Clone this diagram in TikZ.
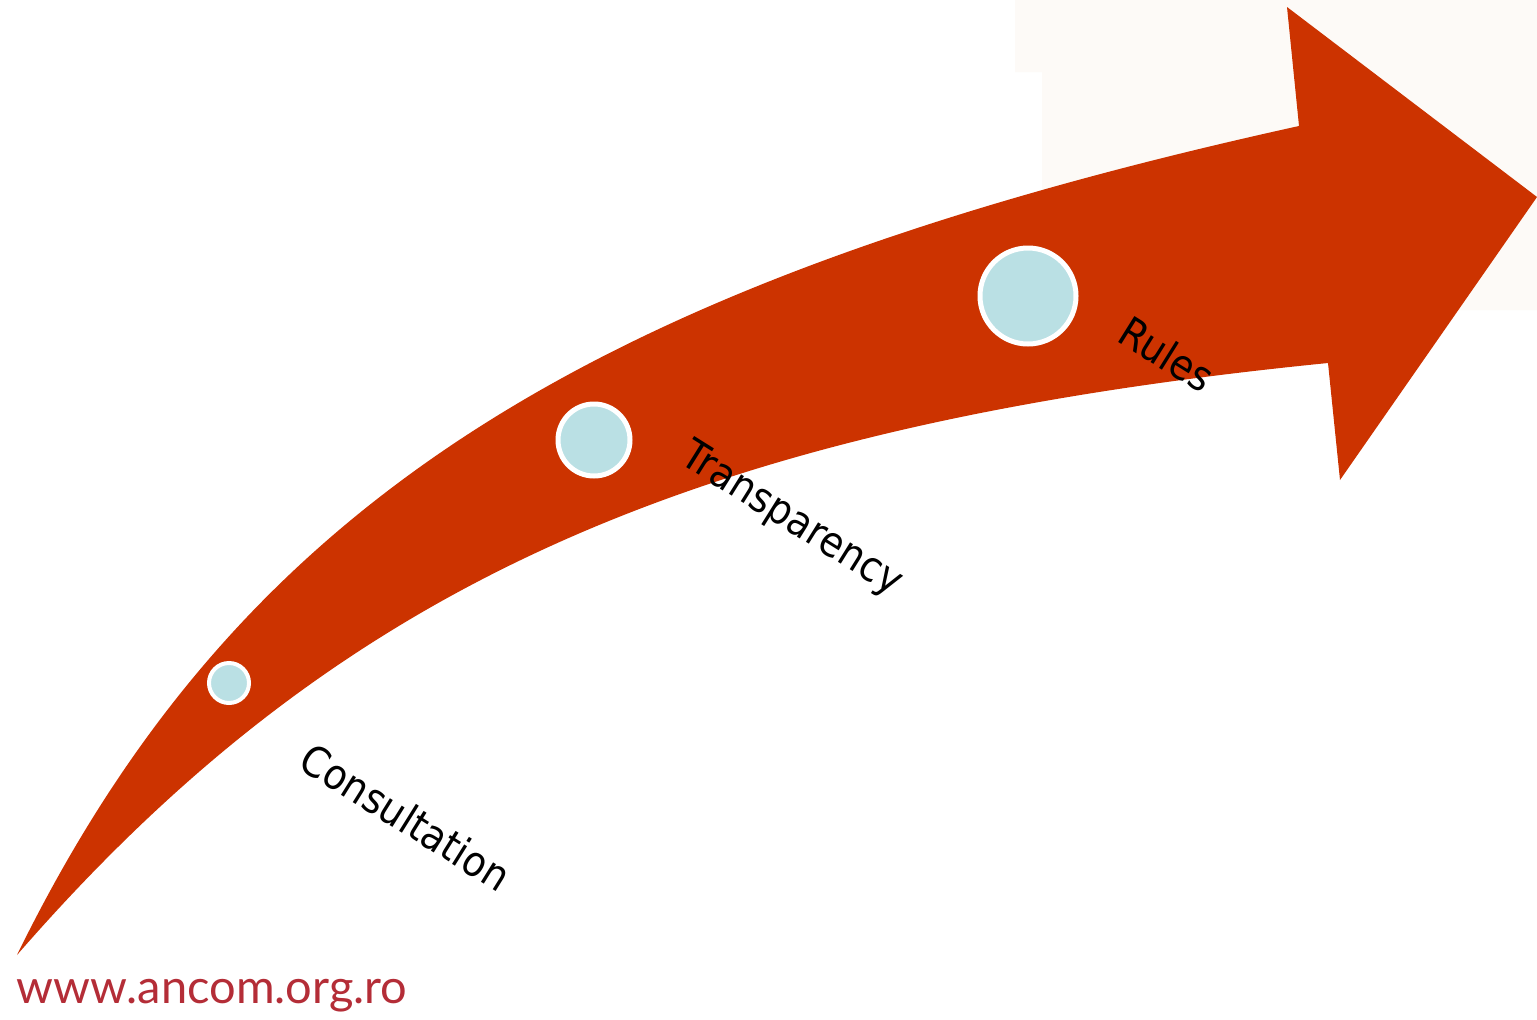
\documentclass[tikz,border=0pt]{standalone}
\usepackage{fontspec}
\setmainfont{DejaVu Sans}
\newfontfamily\urlfont{Lato}
\usetikzlibrary{positioning}
\definecolor{arrowred}{RGB}{204,51,0}
\definecolor{dotblue}{RGB}{186,224,228}
\definecolor{urlred}{RGB}{180,45,55}
\definecolor{paper}{RGB}{253,250,247}

\begin{document}
\begin{tikzpicture}[x=1pt,y=-1pt,on grid]
  \tikzstyle{dot}=[circle,draw=white,fill=dotblue,inner sep=0pt]
  \tikzstyle{steplabel}=[rotate=-32,xscale=0.9,inner sep=0pt,
                         font=\fontsize{42}{50}\selectfont]

  \useasboundingbox (0,0) rectangle (1537,1020);
  \fill[white] (0,0) rectangle (1537,1020);
  \fill[paper] (1015,0) -- (1537,0) -- (1537,310) -- (1042,310)
    -- (1042,72) -- (1015,72) -- cycle;

  % the big arrow
  \fill[arrowred] (17,955) .. controls (236,508) and (582,284) .. (1299,126)
    -- (1287,7) -- (1537,197) -- (1340,480) -- (1328,363)
    .. controls (691,426.5) and (337.5,586.4) .. (17,955) -- cycle;

  \node[dot,line width=4pt,minimum size=40pt] (dot1) at (229,683) {};
  \node[dot,line width=5pt,minimum size=72pt] (dot2) at (594,440) {};
  \node[dot,line width=5pt,minimum size=96pt] (dot3) at (1028,296) {};

  \node[steplabel] (lab1) [below right=134pt and 177pt of dot1] {Consultation};
  \node[steplabel] (lab2) [below right=80pt and 197pt of dot2] {Transparency};
  \node[steplabel] (lab3) [below right=58pt and 139pt of dot3] {Rules};

  \node[anchor=base,text=urlred,font=\urlfont\fontsize{47}{56}\selectfont]
    (url) at (212,1003) {www.ancom.org.ro};
\end{tikzpicture}
\end{document}
